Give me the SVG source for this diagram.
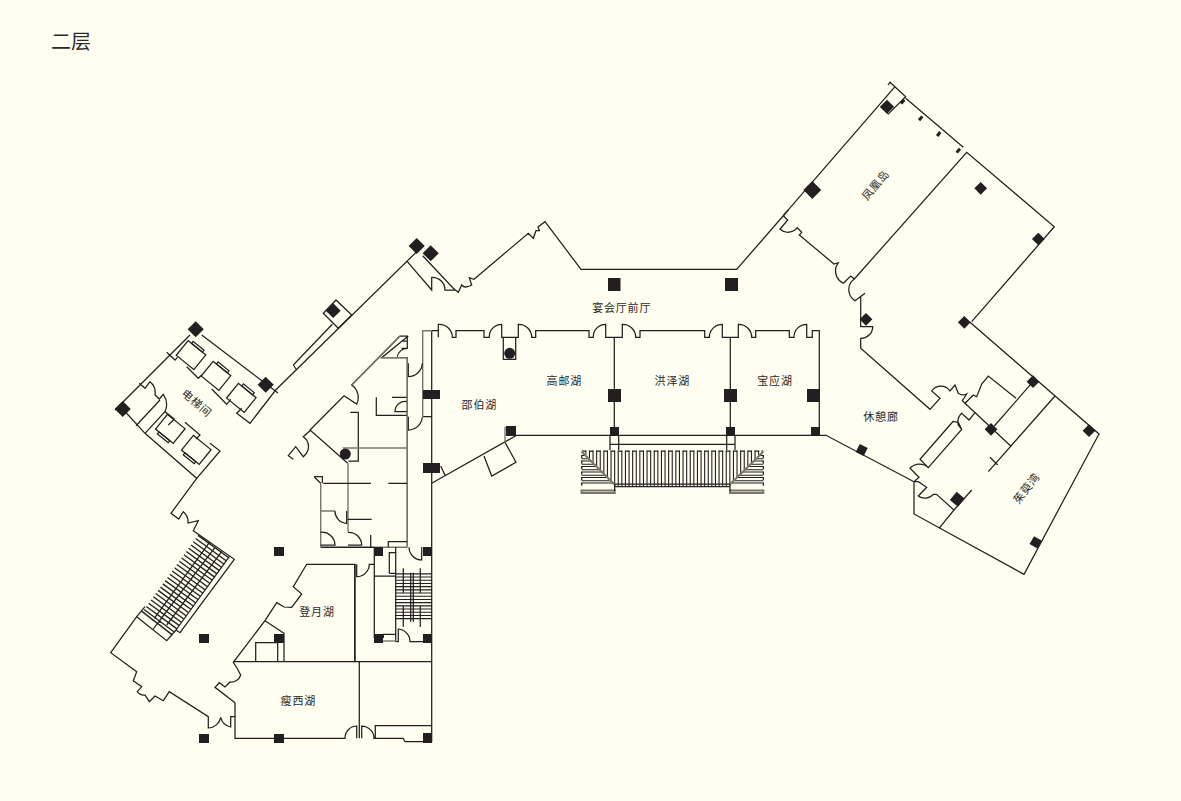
<svg xmlns="http://www.w3.org/2000/svg" width="1181" height="801" viewBox="0 0 1181 801">
<style>
.w{fill:none;stroke:#231f20;stroke-width:1.25;stroke-linejoin:miter}
.g{fill:none;stroke:#77776c;stroke-width:1.4}
.p{fill:#231f20}
.t{font-family:"Noto Sans CJK SC","Noto Sans",sans-serif;font-size:11px;letter-spacing:.8px;fill:#2a2a2a;text-anchor:middle}
</style>
<defs>
<g id="car"><rect class="w" x="-11.3" y="-9.4" width="22.7" height="18.9"/><rect class="w" x="-7" y="-12" width="14" height="2.6"/></g>
<clipPath id="mid"><polygon points="581.7,450 763.3,450 729.3,486 615,486"/></clipPath>
<clipPath id="tl"><polygon points="581.7,451.7 615,485 581.7,485"/></clipPath>
<clipPath id="tr"><polygon points="763.3,451.7 729.3,485 763.3,485"/></clipPath>
</defs>
<rect width="1181" height="801" fill="#fffef0"/>
<text x="71" y="49" style="font-family:'Noto Sans CJK SC',sans-serif;font-size:20px;fill:#2a2a2a;text-anchor:middle">二层</text>
<g id="walls">
<path class="w" d="M416.7 251.7L275.7 390L250 423.3L236.7 413.3L241.7 408.3M407.3 261.7L431.7 290V277.3A12.7 12.7 0 0 1 445 290H455M422.7 255.7L453.3 288.3L458.3 292.3L461.7 285Q465 289 471.7 285L469.3 277.7L474 279.3L528.3 233.3L533.3 238.3L536 230.7H539.3L538 227L545 221.7L581 269.3H736.7L788.3 210"/>
<path class="w" d="M323.3 313.3L336 300L351.7 315L338.3 328.3ZM293.3 365L332.3 324.3M293.3 365L296.7 370"/>
<path class="w" d="M201.7 335L278 393M190 335L115 410M122.7 409L145 433.3L196.7 478.3L220 451L210 443.3M136 425.7L160 400M145 433.3L165 411.7L174.3 419L168.3 425M139.3 383.3L145 388.3L150 381.7A14 14 0 0 1 155 395L159.3 399L163.3 394.3A18 18 0 0 1 165 411.7M166.7 352.3L175 360L177.5 357.3M186.7 366.7L198.3 378.3L201.7 375M211.7 389L226.7 404.3L230.7 399.3M185 422.3L200 435L196 439"/>
<use href="#car" transform="translate(191 355) rotate(39)"/>
<use href="#car" transform="translate(216 375.7) rotate(39)"/>
<use href="#car" transform="translate(241.3 397.7) rotate(39)"/>
<use href="#car" transform="translate(170.3 429) rotate(219)"/>
<use href="#car" transform="translate(196.3 450) rotate(219)"/>
<path class="w" d="M196.7 478.3L171 513.3L178.7 519L183.3 511.7A13 13 0 0 1 188 523L198.3 520.7L193.3 530.7L198.3 534.3L234.3 559.3L180 632.7L176 630M229.3 556.7L176 630M215 547.3L160 620V623M209.3 542.7L154.3 618.3M221.7 551.7L166.7 625M136.7 616.7L166.7 640.7L176 630M141.7 611L171.7 634.3M160 620L153.3 629M145 606.7L136.7 616.7L110.7 652.7L136.7 671.7L133.3 680.7L141.7 686.7L137.3 691.7A8 8 0 0 0 145 695L149.3 701.7L155 696L163.3 700.7L169.3 691.7L208.3 716.7V727.3M208.3 717V728A13 13 0 0 0 220.7 717.3A13 13 0 0 0 230.7 727V716.7H235V738.3H345A12 12 0 0 1 356.7 726V738.3M235 702.7V716.7M235 702.7L215 687.3L219.3 682.7L225 687L230 682A10 10 0 0 0 240.7 675L237.5 669L233.3 662.3L265 620.7L276.7 602.7L284 607L291.7 607.3L301.7 594L293.3 586.7L306.7 564.3H355V661.7M233.3 661.7H431.7M265 620.7L284 633.3V661.7M277.7 642.7V661.7M255.7 661.7V642.7H277.7"/>
<path class="w" stroke-dasharray="1.3 2.7" d="M213.8 546L160 620L157 624" style="stroke-width:38"/>
<path class="w" d="M359.3 661.7V738.3M361.7 738.3V726A12.3 12.3 0 0 1 374 738.3H403.3L405 741.7H423M375.3 738.3V725.7H431.7M356.7 564.3V576.7A12.6 12.6 0 0 0 369.3 564.3H374.3M354.7 564.3V661"/>
<path class="w" d="M431.7 330.7V742M422.7 416.7H431.7M431.7 330.7H438.3V337.3M438.3 337.3V324.3A13 13 0 0 1 452.3 337.3H456V330.7H484V337.3H489.3A12.5 12.5 0 0 1 501.7 324.3V337.3H518.3V324.3A13 13 0 0 1 531.7 337.3H535.7V330.7H589V337.3H593.3A12.5 12.5 0 0 1 605.7 324.3V337.3H622.3V324.3A13 13 0 0 1 635.7 337.3H640V330.7H704.7V337.3H709.3A13 13 0 0 1 722.3 324.3V337.3H738.3V324.3A13 13 0 0 1 751.7 337.3H755.7V330.7H789.3V337.3H794A12.7 12.7 0 0 1 806.7 324.3V337.3H812.3V330.7H819.3V435.3"/>
<path class="g" d="M431.7 330.7H422.7V416.7"/>
<path class="w" d="M503.3 337.3V359.3H515.7V337.3M614.3 337.3V435.3M730.3 337.3V435.3M516.7 435.3H826L914 481.7M516.7 435.3L431.7 483.3M505 442.3L516 462.3L491.7 476L484 456M440.7 466L445.3 475.7"/>
<path class="g" d="M505 426.7V442.3"/>
<path class="w" d="M610 435V450M618.7 435V450M726.7 435V450M735 435V450M610 444.3H735"/>
<g id="stair">
<g clip-path="url(#mid)"><path class="w" style="stroke-width:36" stroke-dasharray="1.1 2.5" d="M581.7 468.7H763.3"/></g>
<path class="w" stroke-dasharray="4.7 2.5" d="M581.7 451H763.3"/>
<g clip-path="url(#tl)"><path class="w" style="stroke-width:70" stroke-dasharray="1 2.2 1 1.3" d="M590 455V486"/></g>
<g clip-path="url(#tr)"><path class="w" style="stroke-width:70" stroke-dasharray="1 2.2 1 1.3" d="M755 455V486"/></g>
<path class="w" stroke-dasharray="3.2 2.3" d="M581.7 455V486M763.3 455V486"/>
<path class="g" style="stroke-width:2" d="M581.7 451.7L615 485M763.3 451.7L729.3 485M581.5 490.5H614.7V493H581.5ZM730 490.5H763.3V493H730Z"/>
<path class="w" d="M614.7 484V491M730 484V491M615 484H729.3M615 486.7H729.3"/>
</g>
<path class="w" d="M783.3 215.7L787.7 220L780 229.3A12 12 0 0 0 797.3 227.7L801.7 232.3L799.3 235L834 264L838.3 262.7L836 267A14 14 0 0 0 843.3 283.3L850.7 276L854.3 279A13 13 0 0 0 855 300.7L865 293.3M860.7 296.7V326.7H872.7A11.6 11.6 0 0 1 860.7 338.3V348.3L930 409.3L940 398.3L931.7 391A11 11 0 0 1 950 391L955 385L958.3 393.3A8 8 0 0 0 966.7 394L962.3 400.7L965 403.3L973.3 395L976.7 396.7L981.7 384L988.3 376L1016 398.3M962.3 400.7L1010.7 446M975 412.7L969 420L961.7 413.3A12 12 0 0 0 958.3 425L961.7 429.3M958.3 422.3L961.7 429.3L928.3 467.7L920 459.3L953 421.5L958.3 422.3M928.3 467.7A13 13 0 0 0 910 468.3L919 477.3L914 481.7V514L1024 574.3L1099 434L970 322.3M914 481.7L918.3 481.7L926.7 487.3L918.3 496A11 11 0 0 0 933.3 494.3H936.5L954 510L939 528.3M954 510L971.7 490M988.3 471.7L1055 396M990 457.3L997.7 465M994.3 426L1033 381.7"/>
<path class="w" d="M783.3 215.7L895 86.7M854.3 279L966.7 152.3L1054.3 226.7L971.7 321.7M905.7 98.3L963.3 147.3M888 85L890 82.3L905.7 96.7L888.3 114L880.7 106.7"/>
<path class="w" d="M408.3 336L381.7 357.7H407.3V546.7M400 336H407.3V348.3H401.7M407.3 341H401.7M407.3 348.3A10 10 0 0 0 397.3 356.7M400 336L351.7 385A15 15 0 0 1 356.7 404L344 395.7L310 430L347.7 463.3M310 430.7L303.3 436.7A12 12 0 0 1 305 455L303.3 456.7L295.7 446.7L288.3 455.7L293.3 459.3M408.3 363.3V376.7A14 14 0 0 0 422.3 363.3M408.3 416.7V430A14 14 0 0 0 422.3 417.3M376.3 397.3V415.3H407.3M392 397.3H407.3M407.3 401.7A10 10 0 0 0 395 411.7H407.3M350.3 412.3H358.3V461H348.3"/>
<path class="g" d="M342.7 448H407.3M348 463.3V531.7M320.7 483.3V546.7M320.7 511H335M320.7 547.3H407.3M407.3 357.7V546.7M381.7 357.7H407.3M400 336L351.7 385"/>
<path class="w" d="M323.3 483.3H371M388.3 483.3H407.3M314.3 476.7H322.3V483.3M314.3 477L320.7 483.3M335 511A12 12 0 0 0 346.7 523.3V511M347.7 519.3H371.7M320.7 532.3A13 13 0 0 1 335 545H320.7M348 532.3A13 13 0 0 1 361.7 545H348M370.7 535V547M388.3 547V541.7H407.3M320.7 547.3H374.3"/>
<path class="w" d="M374.3 547V638M395.7 547V641.7M374.3 576H395.7M389.3 573.3V552.7H395.7M389.3 573.3H395.7M383.3 638V634.3H395.7M395.7 641.7H398.3V629A12.7 12.7 0 0 1 410 641.7H424M409 547.3A13 13 0 0 0 421.7 560V547.3"/>
<path class="g" d="M380 641H395.7"/>
<path class="w" style="stroke-width:36" stroke-dasharray="1.1 2.1" d="M413.7 573.3V620"/>
<path class="w" d="M403.3 568.3V593M403.3 606V626.7M410.7 572.7V621.7M413.3 572.7V621.7M420.3 568.3V593M420.3 606V627"/>
</g>
<g id="pillars">
<rect class="p" x="608" y="278" width="12.5" height="13"/><rect class="p" x="725" y="278" width="13" height="13"/>
<rect class="p" x="608" y="389" width="13" height="13"/><rect class="p" x="724" y="389" width="13" height="13"/><rect class="p" x="807" y="389" width="13" height="13"/>
<rect class="p" x="506" y="426" width="10" height="10"/><rect class="p" x="610" y="427" width="9" height="9"/><rect class="p" x="726" y="427" width="9" height="9"/><rect class="p" x="811" y="427" width="9" height="9"/>
<rect class="p" x="423" y="390" width="17" height="9"/><rect class="p" x="423" y="463" width="17" height="10"/>
<rect class="p" x="274" y="547" width="10" height="9"/><rect class="p" x="199" y="634" width="10" height="9"/><rect class="p" x="274" y="634" width="10" height="9"/><rect class="p" x="199" y="734" width="10" height="9"/><rect class="p" x="274" y="734" width="10" height="9"/><rect class="p" x="423" y="733" width="9" height="10"/>
<rect class="p" x="374" y="547" width="9" height="9"/><rect class="p" x="423" y="547" width="9" height="9"/><rect class="p" x="374" y="634" width="9" height="9"/><rect class="p" x="423" y="634" width="9" height="9"/>
<circle class="p" cx="509.7" cy="353.3" r="5.5"/><circle class="p" cx="345.3" cy="454" r="5.5"/>
<rect class="p" x="190" y="323.6" width="11.4" height="11.4" transform="rotate(45 195.7 329.3)"/>
<rect class="p" x="260" y="379" width="11.4" height="11.4" transform="rotate(45 265.7 384.7)"/>
<rect class="p" x="117" y="403.3" width="11.4" height="11.4" transform="rotate(45 122.7 409)"/>
<rect class="p" x="411" y="240.3" width="11.4" height="11.4" transform="rotate(45 416.7 246)"/>
<rect class="p" x="425" y="247.6" width="11.4" height="11.4" transform="rotate(45 430.7 253.3)"/>
<rect class="p" x="328" y="305.5" width="10.5" height="10.5" transform="rotate(45 333.3 310.7)"/>
<rect class="p" x="882" y="101.7" width="10" height="10" transform="rotate(45 887 106.7)"/>
<rect class="p" x="806" y="183.7" width="12.6" height="12.6" transform="rotate(45 812.3 190)"/>
<rect class="p" x="976.2" y="183.8" width="9" height="9" transform="rotate(45 980.7 188.3)"/>
<rect class="p" x="1033.8" y="234.5" width="9" height="9" transform="rotate(45 1038.3 239)"/>
<rect class="p" x="861.5" y="314.8" width="9" height="9" transform="rotate(45 866 319.3)"/>
<rect class="p" x="959.8" y="317.8" width="9" height="9" transform="rotate(45 964.3 322.3)"/>
<rect class="p" x="1028.5" y="377.2" width="9" height="9" transform="rotate(45 1033 381.7)"/>
<rect class="p" x="1084.5" y="426.2" width="9" height="9" transform="rotate(45 1089 430.7)"/>
<rect class="p" x="986.5" y="424.8" width="9" height="9" transform="rotate(45 991 429.3)"/>
<rect class="p" x="952" y="494" width="10.6" height="10.6" transform="rotate(40 957.3 499.3)"/>
<rect class="p" x="1031.2" y="537.8" width="9" height="9" transform="rotate(30 1035.7 542.3)"/>
<rect class="p" x="857.2" y="445.5" width="9" height="9" transform="rotate(27 861.7 450)"/>
<rect class="p" x="900.2" y="100.2" width="5" height="3" transform="rotate(-50 902.7 101.7)"/>
<rect class="p" x="918.2" y="116.8" width="5" height="3" transform="rotate(-50 920.7 118.3)"/>
<rect class="p" x="936.2" y="132.5" width="5" height="3" transform="rotate(-50 938.7 134)"/>
<rect class="p" x="955.8" y="149.2" width="5" height="3" transform="rotate(-50 958.3 150.7)"/>
</g>
<g id="labels">
<text class="t" x="621.7" y="311.5">宴会厅前厅</text>
<text class="t" x="479.3" y="408.8">邵伯湖</text>
<text class="t" x="564.3" y="384.5">高邮湖</text>
<text class="t" x="672.3" y="384.5">洪泽湖</text>
<text class="t" x="775" y="384.5">宝应湖</text>
<text class="t" x="881" y="420.5">休憩廊</text>
<text class="t" x="317" y="616">登月湖</text>
<text class="t" x="298.3" y="704.5">瘦西湖</text>
<text class="t" transform="translate(196.7 403.3) rotate(41)" y="3.8">电梯间</text>
<text class="t" transform="translate(875.7 185) rotate(-50)" y="3.8">凤凰岛</text>
<text class="t" transform="translate(1026.7 488.3) rotate(-52)" y="3.8">茱萸湾</text>
</g>
</svg>
